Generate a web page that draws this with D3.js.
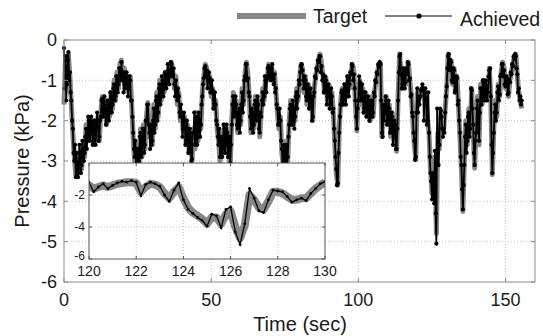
<!DOCTYPE html>
<html>
<head>
<meta charset="utf-8">
<script src="https://cdn.jsdelivr.net/npm/d3@7"></script>
<style>
  html, body { margin: 0; padding: 0; background: #fff; }
  svg { display: block; font-family: "Liberation Sans", Arial, sans-serif; }
</style>
</head>
<body>
<svg id="chart" width="543" height="336"></svg>
<script>
// target pressure, sampled every 0.5 s from t = 0
const targetStep = 0.5;
const target = [
  -1.6, -0.5, -1.0, -0.35, -0.9, -1.6, -2.3, -2.9, -3.35, -3.0,
  -3.3, -2.7, -3.2, -2.6, -2.9, -2.1, -2.5, -1.95, -2.4, -2.0,
  -2.6, -2.0, -2.3, -1.9, -2.5, -1.8, -1.4, -1.9, -1.6, -2.1,
  -1.5, -1.9, -1.3, -1.7, -1.0, -1.5, -0.8, -1.2, -0.6, -0.5,
  -1.0, -0.7, -1.2, -0.9, -1.3, -0.9, -1.6, -2.4, -3.0, -3.2,
  -2.6, -3.1, -2.2, -2.9, -2.1, -2.7, -1.9, -1.55, -2.4, -2.0,
  -2.6, -1.6, -2.2, -1.3, -1.9, -1.0, -1.5, -0.9, -1.3, -0.8,
  -1.1, -0.7, -0.9, -0.55, -0.8, -1.2, -0.9, -1.6, -1.3, -2.0,
  -1.8, -2.3, -1.9, -2.6, -2.1, -2.8, -2.3, -3.0, -2.2, -2.7,
  -1.8, -2.5, -1.9, -2.2, -1.3, -0.9, -0.6, -0.7, -1.1, -0.9,
  -1.4, -1.2, -1.7, -1.5, -2.2, -2.5, -3.0, -2.3, -2.8, -2.1,
  -2.7, -2.2, -2.9, -3.1, -2.0, -1.3, -1.9, -1.5, -2.3, -1.6,
  -2.1, -1.2, -1.6, -0.8, -0.55, -0.9, -1.5, -2.3, -1.7, -2.2,
  -1.4, -2.0, -1.5, -2.4, -1.8, -1.2, -1.5, -0.9, -1.0, -0.6,
  -0.8, -0.65, -1.0, -0.8, -1.3, -1.8, -2.2, -1.9, -2.8, -3.1,
  -3.25, -2.5, -3.0, -2.0, -1.5, -2.1, -1.6, -2.0, -1.2, -1.5,
  -1.0, -0.6, -0.7, -1.3, -0.9, -1.6, -1.1, -1.7, -1.4, -2.0,
  -1.2, -0.9, -0.7, -0.5, -0.35, -0.6, -0.9, -1.3, -0.95, -1.5,
  -1.1, -1.7, -1.3, -1.8, -2.6, -3.3, -3.6, -2.2, -1.5, -1.2,
  -1.6, -1.1, -1.4, -0.9, -1.2, -0.8, -0.6, -0.8, -1.6, -2.25,
  -1.4, -1.0, -1.6, -1.2, -1.8, -1.3, -1.9, -1.5, -2.0, -1.4,
  -1.9, -1.3, -1.0, -0.8, -0.6, -0.57, -2.4, -1.5, -1.9, -1.4,
  -2.1, -1.6, -2.4, -1.8, -2.5, -2.0, -2.76, -1.4, -0.35, -0.8,
  -1.2, -0.7, -1.1, -0.8, -0.55, -1.0, -1.4, -2.0, -2.6, -2.97,
  -1.3, -1.5, -1.4, -1.3, -1.25, -1.3, -1.45, -2.0, -2.3, -3.2,
  -3.8, -3.5, -2.9, -4.8, -2.3, -2.7, -1.8, -2.3, -2.2, -1.7,
  -1.2, -0.35, -0.8, -0.5, -1.1, -0.7, -1.3, -0.9, -1.6, -2.4,
  -3.2, -4.25, -3.0, -2.0, -2.6, -1.7, -2.3, -1.2, -2.2, -3.18,
  -2.2, -1.4, -2.6, -1.1, -1.6, -1.0, -1.5, -1.1, -1.4, -0.7,
  -1.5, -3.34, -2.2, -1.5, -1.9, -1.1, -1.4, -0.8, -0.55, -0.7,
  -1.2, -0.9, -1.4, -1.0, -0.8, -0.6, -0.4, -0.36, -0.9, -1.3,
  -1.5, -1.7
];

// achieved pressure, sampled every 0.25 s from t = 0
const achievedStep = 0.25;
const achieved = [
  -0.2, -1.2, -0.4, -1.5, -1.1, -0.5, -0.3, -1.0, -0.8, -1.3, -1.5, -2.0, -2.2, -2.8, -3.0, -2.6, -3.4, -2.8, -3.1, -3.4,
  -3.2, -2.6, -2.8, -3.3, -3.1, -2.5, -2.7, -3.0, -2.8, -2.4, -2.2, -2.7, -2.4, -1.9, -2.0, -2.5, -2.3, -1.9, -2.1, -2.6,
  -2.5, -2.0, -2.1, -2.6, -2.2, -1.8, -2.0, -2.5, -2.4, -2.0, -1.9, -1.5, -1.45, -1.9, -1.8, -1.4, -1.7, -2.1, -2.0, -1.5,
  -1.6, -2.0, -1.8, -1.3, -1.4, -1.8, -1.6, -1.2, -1.1, -1.5, -1.4, -0.9, -0.9, -1.3, -1.1, -0.7, -0.7, -1.0, -0.55, -0.8,
  -0.9, -1.3, -0.8, -1.2, -1.1, -0.8, -1.0, -1.4, -1.2, -0.9, -1.0, -1.5, -1.5, -1.9, -2.3, -2.7, -2.9, -2.5, -3.25, -2.8,
  -2.7, -3.2, -3.0, -2.4, -2.3, -2.9, -2.8, -2.2, -2.2, -2.8, -2.6, -2.0, -2.0, -1.6, -1.6, -2.1, -2.3, -2.7, -2.1, -2.6,
  -2.5, -2.0, -1.7, -2.3, -2.1, -1.5, -1.4, -2.0, -1.8, -1.2, -1.1, -1.6, -1.4, -0.9, -1.0, -1.4, -1.2, -0.8, -0.85, -1.2,
  -1.0, -0.6, -0.75, -1.1, -0.85, -0.55, -0.6, -0.9, -0.85, -0.7, -1.1, -1.4, -1.0, -1.3, -1.5, -1.2, -1.4, -1.8, -1.9, -1.6,
  -1.9, -2.4, -2.2, -1.8, -2.0, -2.6, -2.5, -2.0, -2.2, -2.8, -2.7, -2.2, -2.4, -3.0, -2.95, -2.3, -2.3, -1.8, -2.6, -2.2,
  -1.9, -2.6, -2.4, -1.8, -2.0, -2.4, -2.1, -1.6, -1.4, -1.1, -0.95, -0.7, -0.65, -0.9, -0.75, -1.2, -1.0, -0.8, -0.95, -1.3,
  -1.3, -1.0, -1.25, -1.7, -1.6, -1.3, -1.6, -2.0, -2.1, -2.4, -2.6, -2.2, -2.9, -2.5, -2.4, -2.9, -2.7, -2.1, -2.2, -2.8,
  -2.6, -2.1, -2.3, -2.9, -2.8, -2.4, -3.05, -2.6, -2.1, -1.6, -1.4, -1.9, -1.8, -1.4, -1.6, -2.1, -2.2, -1.8, -1.7, -2.3,
  -2.0, -1.6, -1.3, -1.8, -1.5, -1.0, -0.9, -0.6, -0.6, -1.0, -0.95, -1.3, -1.4, -1.9, -2.2, -1.7, -1.8, -2.3, -2.1, -1.6,
  -1.5, -2.0, -1.9, -1.4, -1.6, -2.2, -2.3, -1.8, -1.9, -1.5, -1.3, -1.6, -1.4, -0.9, -1.0, -1.3, -0.95, -0.7, -0.65, -0.9,
  -0.75, -1.0, -0.7, -0.6, -0.95, -1.1, -0.85, -1.3, -1.2, -1.6, -1.7, -2.1, -2.1, -1.7, -2.0, -2.5, -2.7, -3.1, -3.05, -2.6,
  -3.2, -2.8, -2.6, -3.1, -2.9, -2.4, -2.1, -1.7, -1.6, -2.1, -2.0, -1.5, -1.7, -2.2, -1.9, -1.4, -1.3, -1.7, -1.4, -1.0,
  -1.1, -0.8, -0.65, -0.6, -0.75, -1.0, -1.2, -0.9, -1.0, -1.4, -1.5, -1.1, -1.2, -1.7, -1.6, -1.2, -1.5, -2.0, -1.9, -1.4,
  -1.3, -0.9, -0.95, -0.7, -0.75, -0.5, -0.55, -0.4, -0.4, -0.8, -0.65, -1.0, -0.85, -1.3, -1.25, -0.9, -1.0, -1.6, -1.4, -1.1,
  -1.2, -1.7, -1.6, -1.2, -1.4, -1.8, -1.7, -2.2, -2.5, -2.9, -3.2, -3.6, -3.55, -2.8, -2.3, -1.9, -1.6, -1.3, -1.25, -1.6,
  -1.5, -1.1, -1.2, -1.6, -1.3, -0.9, -1.0, -1.4, -1.1, -0.8, -0.85, -0.6, -0.65, -1.0, -0.85, -1.2, -1.5, -1.9, -2.2, -1.7,
  -1.5, -0.9, -1.05, -1.5, -1.5, -1.1, -1.3, -1.8, -1.7, -1.3, -1.4, -1.9, -1.8, -1.4, -1.6, -2.0, -1.9, -1.5, -1.5, -1.9,
  -1.8, -1.3, -1.4, -1.0, -1.05, -0.8, -0.85, -0.6, -0.65, -0.55, -0.6, -1.5, -2.3, -2.4, -1.6, -2.0, -1.8, -1.4, -1.5, -2.1,
  -2.0, -1.5, -1.7, -2.3, -2.3, -1.8, -1.9, -2.6, -2.4, -2.0, -2.1, -2.7, -2.7, -2.2, -1.5, -0.8, -0.4, -0.35, -0.85, -1.2,
  -1.1, -0.7, -0.75, -1.2, -1.05, -0.7, -0.85, -0.55, -0.6, -1.0, -0.95, -1.4, -1.35, -1.8, -1.9, -2.3, -2.5, -2.97, -2.9, -1.8,
  -1.2, -1.8, -1.45, -1.6, -1.4, -1.25, -1.2, -1.1, -1.2, -2.0, -1.3, -1.2, -1.45, -2.1, -2.0, -1.3, -2.3, -2.9, -3.3, -3.5,
  -3.95, -3.3, -3.6, -4.05, -2.75, -4.3, -5.05, -1.7, -2.4, -3.1, -2.6, -1.7, -1.75, -1.9, -2.2, -2.4, -2.2, -2.3, -1.8, -1.4,
  -1.15, -0.7, -0.4, -0.35, -0.75, -0.5, -0.55, -1.0, -1.05, -0.7, -0.75, -1.3, -1.25, -0.9, -0.95, -1.6, -1.5, -2.0, -2.3, -2.9,
  -3.1, -3.7, -4.2, -3.6, -3.1, -2.4, -2.1, -2.8, -2.5, -1.9, -1.8, -2.4, -2.2, -1.2, -1.25, -1.7, -2.1, -2.8, -3.1, -2.5,
  -2.3, -1.7, -1.5, -2.2, -2.5, -1.8, -1.2, -1.6, -1.5, -1.0, -1.05, -1.5, -1.4, -1.0, -1.15, -1.5, -1.3, -0.9, -0.75, -0.7,
  -1.4, -2.6, -3.3, -2.8, -2.3, -1.8, -1.6, -2.0, -1.8, -1.3, -1.15, -1.5, -1.35, -0.9, -0.85, -0.6, -0.6, -0.9, -0.75, -1.1,
  -1.15, -0.9, -0.95, -1.35, -1.3, -1.0, -1.05, -0.8, -0.85, -0.6, -0.65, -0.4, -0.45, -0.35, -0.4, -0.7, -0.85, -1.3, -1.2, -1.5,
  -1.4, -1.6, -1.5
];

// zoomed window 120-130 s, sampled every 0.2 s
const insetStart = 120;
const insetStep = 0.2;
const insetTarget = [
  -1.4, -1.6, -1.5, -1.4, -1.5, -1.4, -1.3, -1.25, -1.2, -1.2,
  -1.25, -1.8, -1.5, -1.3, -1.35, -1.5, -1.9, -2.2, -1.8, -1.5,
  -2.2, -2.8, -3.1, -3.3, -3.5, -3.8, -3.4, -3.4, -3.8, -3.2,
  -3.0, -4.0, -4.7, -3.9, -2.0, -2.3, -2.8, -2.9, -2.4, -1.8,
  -1.8, -1.9, -2.1, -2.3, -2.3, -2.2, -2.2, -1.9, -1.6, -1.4,
  -1.2
];
const insetAchieved = [
  -1.2, -1.8, -1.5, -1.3, -1.6, -1.4, -1.25, -1.15, -1.2, -1.1,
  -1.2, -2.05, -1.35, -1.2, -1.3, -1.45, -2.0, -2.4, -1.7, -1.25,
  -2.3, -2.9, -3.15, -3.4, -3.6, -3.95, -3.2, -3.3, -4.05, -2.9,
  -2.75, -4.3, -5.1, -3.8, -1.6, -2.2, -3.0, -3.1, -2.3, -1.7,
  -1.75, -1.8, -2.1, -2.45, -2.3, -2.2, -2.35, -1.9, -1.6, -1.3,
  -1.15
];

const xTicks = [0, 50, 100, 150];
const yTicks = [0, -1, -2, -3, -4, -5, -6];
const insetXTicks = [120, 122, 124, 126, 128, 130];
const insetYTicks = [-2, -4, -6];

const svg = d3.select("#chart");
const textColor = "#1a1a1a";
const gridColor = "#c4c4c4";
const targetColor = "#878787";

// main plot geometry
const x = d3.scaleLinear().domain([0, 160]).range([64, 535]);
const y = d3.scaleLinear().domain([-6, 0]).range([282, 40]);

// inset geometry
const ix = d3.scaleLinear().domain([120, 130]).range([89, 325]);
const iy = d3.scaleLinear().domain([-6, 0]).range([259, 163]);

function drawGrid(g, xs, ys, xt, yt) {
  const [x0, x1] = xs.range();
  const [y0, y1] = ys.range();
  g.append("g").selectAll("line")
    .data(xt.filter(d => xs(d) > x0 + 1 && xs(d) < x1 - 1))
    .join("line")
    .attr("x1", d => xs(d)).attr("x2", d => xs(d))
    .attr("y1", y1).attr("y2", y0)
    .attr("stroke", gridColor).attr("stroke-dasharray", "1,2");
  g.append("g").selectAll("line")
    .data(yt.filter(d => ys(d) < y0 - 1 && ys(d) > y1 + 1))
    .join("line")
    .attr("y1", d => ys(d)).attr("y2", d => ys(d))
    .attr("x1", x0).attr("x2", x1)
    .attr("stroke", gridColor).attr("stroke-dasharray", "1,2");
}

function drawFrame(g, xs, ys, xt, yt, color, len) {
  const [x0, x1] = xs.range();
  const [y0, y1] = ys.range();
  const ticks = g.append("g").attr("stroke", color);
  xt.forEach(d => {
    ticks.append("line").attr("x1", xs(d)).attr("x2", xs(d)).attr("y1", y0).attr("y2", y0 - len);
    ticks.append("line").attr("x1", xs(d)).attr("x2", xs(d)).attr("y1", y1).attr("y2", y1 + len);
  });
  yt.forEach(d => {
    ticks.append("line").attr("y1", ys(d)).attr("y2", ys(d)).attr("x1", x0).attr("x2", x0 + len);
    ticks.append("line").attr("y1", ys(d)).attr("y2", ys(d)).attr("x1", x1).attr("x2", x1 - len);
  });
  g.append("rect")
    .attr("x", x0).attr("y", y1)
    .attr("width", x1 - x0).attr("height", y0 - y1)
    .attr("fill", "none").attr("stroke", color);
}

// gray target underneath, black achieved line with dot markers on top
function drawSeries(g, tgt, tStep, ach, aStep, t0, xs, ys, tw, lw, r) {
  const lineOf = step => d3.line()
    .x((d, i) => xs(t0 + i * step))
    .y(d => ys(d));
  g.append("path").datum(tgt)
    .attr("d", lineOf(tStep)).attr("fill", "none")
    .attr("stroke", targetColor).attr("stroke-width", tw)
    .attr("stroke-linejoin", "round");
  g.append("path").datum(ach)
    .attr("d", lineOf(aStep)).attr("fill", "none")
    .attr("stroke", "#000").attr("stroke-width", lw);
  g.append("g").selectAll("circle")
    .data(ach)
    .join("circle")
    .attr("cx", (d, i) => xs(t0 + i * aStep))
    .attr("cy", d => ys(d))
    .attr("r", r).attr("fill", "#000");
}

// main panel
const mainG = svg.append("g");
drawGrid(mainG, x, y, xTicks, yTicks);
drawSeries(mainG, target, targetStep, achieved, achievedStep, 0, x, y, 5, 1.8, 2.1);
drawFrame(mainG, x, y, xTicks, yTicks, "#8a8a8a", 4);

mainG.append("g")
  .selectAll("text")
  .data(yTicks)
  .join("text")
  .attr("x", 57).attr("y", d => y(d))
  .attr("dy", "0.35em")
  .attr("text-anchor", "end")
  .attr("font-size", 18).attr("fill", textColor)
  .text(d => d);

mainG.append("g")
  .selectAll("text")
  .data(xTicks)
  .join("text")
  .attr("x", d => x(d)).attr("y", 306)
  .attr("text-anchor", "middle")
  .attr("font-size", 18).attr("fill", textColor)
  .text(d => d);

svg.append("text")
  .attr("transform", "translate(29,161) rotate(-90)")
  .attr("text-anchor", "middle")
  .attr("font-size", 20).attr("fill", textColor)
  .text("Pressure (kPa)");

svg.append("text")
  .attr("x", 300).attr("y", 331)
  .attr("text-anchor", "middle")
  .attr("font-size", 20).attr("fill", textColor)
  .text("Time (sec)");

// legend
const legend = svg.append("g").attr("transform", "translate(0,16)");
legend.append("line")
  .attr("x1", 237).attr("x2", 306).attr("y1", 0).attr("y2", 0)
  .attr("stroke", targetColor).attr("stroke-width", 6);
legend.append("text")
  .attr("x", 313).attr("y", 0).attr("dy", "0.35em")
  .attr("font-size", 19.5).attr("fill", textColor)
  .text("Target");
legend.append("line")
  .attr("x1", 385).attr("x2", 452).attr("y1", 0).attr("y2", 0)
  .attr("stroke", "#000").attr("stroke-width", 1);
legend.append("circle")
  .attr("cx", 419).attr("cy", 0).attr("r", 2.6).attr("fill", "#000");
legend.append("text")
  .attr("x", 460).attr("y", 3).attr("dy", "0.35em")
  .attr("font-size", 19.5).attr("fill", textColor)
  .text("Achieved");

// inset panel
const insetG = svg.append("g");
insetG.append("rect")
  .attr("x", 89).attr("y", 163)
  .attr("width", 236).attr("height", 96)
  .attr("fill", "#fff");
drawGrid(insetG, ix, iy, insetXTicks, insetYTicks);

insetG.append("clipPath").attr("id", "insetClip")
  .append("rect")
  .attr("x", 89).attr("y", 163)
  .attr("width", 236).attr("height", 96);
drawSeries(insetG.append("g").attr("clip-path", "url(#insetClip)"),
  insetTarget, insetStep, insetAchieved, insetStep, insetStart, ix, iy, 8, 1.3, 1.4);
drawFrame(insetG, ix, iy, insetXTicks, insetYTicks, "#555", 3);

insetG.append("g")
  .selectAll("text")
  .data(insetYTicks)
  .join("text")
  .attr("x", 85).attr("y", d => iy(d))
  .attr("dy", d => d === -6 ? "0.1em" : "0.35em")
  .attr("text-anchor", "end")
  .attr("font-size", 12).attr("fill", textColor)
  .text(d => d);

insetG.append("g")
  .selectAll("text")
  .data(insetXTicks)
  .join("text")
  .attr("x", d => ix(d)).attr("y", 276)
  .attr("text-anchor", "middle")
  .attr("font-size", 14).attr("fill", textColor)
  .text(d => d);
</script>
</body>
</html>
